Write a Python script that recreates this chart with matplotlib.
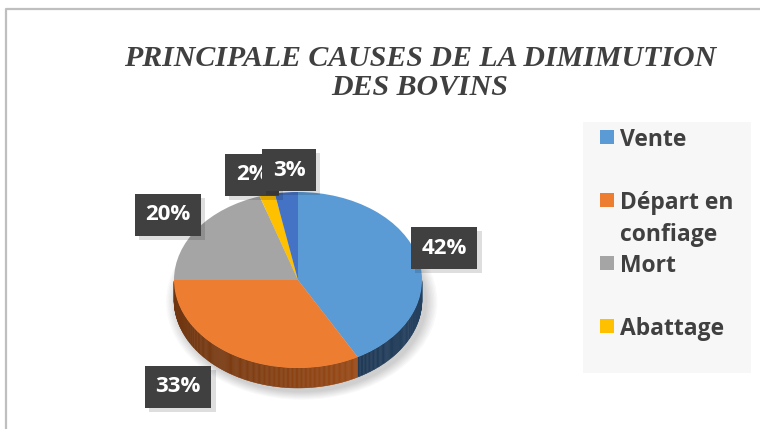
import numpy as np
import matplotlib
matplotlib.use("Agg")
import matplotlib.pyplot as plt
import matplotlib.patheffects as pe
from matplotlib.patches import Polygon, Ellipse, Rectangle
from matplotlib.colors import to_rgb

# ---------------- data ----------------
title = "PRINCIPALE CAUSES DE LA DIMIMUTION\nDES BOVINS"
categories = ["Vente", "Départ en\nconfiage", "Mort", "Abattage", ""]
values = [42, 33, 20, 2, 3]
pct_labels = ["42%", "33%", "20%", "2%", "3%"]

# ---------------- style ----------------
top_colors = ["#5B9BD5", "#ED7D31", "#A5A5A5", "#FFC000", "#4472C4"]
side_colors = ["#203A56", "#9A4A16", "#6A6A6A", "#A07900", "#2A4880"]
text_dark = "#404040"
font_ui = ["Open Sans", "DejaVu Sans"]
# label centres in pixel coordinates (x, y from top)
label_pos = [(444, 248), (178, 387), (168, 215), (252, 175), (289, 170)]
# legend rows in pixel coordinates (y of entry centre)
legend_rows = [137, 200, 263, 326]

W, H = 760, 429
fig = plt.figure(figsize=(W / 100, H / 100), dpi=100)
fig.patch.set_facecolor("white")

# pie axes: 124 px per unit horizontally, 88 px per unit vertically
cx, cy = 298, 280
rx, ry = 124, 88
depth = 20 / ry
axp = fig.add_axes([(cx - 1.5 * rx) / W, (H - cy - 1.5 * ry) / H, 3 * rx / W, 3 * ry / H])
wedges, _ = axp.pie(values, colors=top_colors, startangle=90, counterclock=False,
                    radius=1.0, wedgeprops=dict(linewidth=0, zorder=5))
axp.set_aspect("auto")
axp.set_xlim(-1.5, 1.5)
axp.set_ylim(-1.5, 1.5)
axp.axis("off")

# soft shadow
for k in range(8):
    s = 1.0 + 0.012 * k
    e = Ellipse((0.03, -depth - 0.02), 2 * s + 0.02, 2 * s + 0.06, facecolor="black",
                alpha=0.025, linewidth=0, zorder=1)
    axp.add_patch(e)

# 3D side walls
for w, sc in zip(wedges, side_colors):
    t1, t2 = np.radians(w.theta1), np.radians(w.theta2)
    ts = np.linspace(t1, t2, 200)
    vis = ts[np.sin(ts) <= 0]
    if len(vis) < 2:
        continue
    base = np.array(to_rgb(sc))
    for a, b in zip(vis[:-1], vis[1:]):
        g = 0.72 + 0.38 * (np.cos((a + b) / 2) + 1) / 2
        col = np.clip(base * g, 0, 1)
        pts = [(np.cos(a), np.sin(a)), (np.cos(b), np.sin(b)),
               (np.cos(b), np.sin(b) - depth), (np.cos(a), np.sin(a) - depth)]
        axp.add_patch(Polygon(pts, closed=True, facecolor=col, edgecolor=col,
                              linewidth=0.3, zorder=3))

# overlay axes in pixel coordinates
ax = fig.add_axes([0, 0, 1, 1])
ax.set_xlim(0, W)
ax.set_ylim(H, 0)
ax.axis("off")
ax.patch.set_alpha(0)

# chart border
ax.plot([6, 6, W], [H, 9, 9], color="#BFBFBF", lw=1.6, solid_capstyle="butt", zorder=1)

# title
ax.text(420, 73, title, ha="center", va="center", fontsize=21.5, fontweight="bold",
        fontstyle="italic", family=["Liberation Serif", "DejaVu Serif"], color=text_dark,
        linespacing=1.05)

# data labels
shadow = [pe.SimplePatchShadow(offset=(3, -3), shadow_rgbFace="black", alpha=0.13), pe.Normal()]
for i, (lab, (lx, ly)) in enumerate(zip(pct_labels, label_pos)):
    t = ax.text(lx, ly, lab, ha="center", va="center", fontsize=16, fontweight="bold",
                family=font_ui, color="white",
                bbox=dict(boxstyle="square,pad=0.48", facecolor="#404040", edgecolor="none"),
                zorder=11 + i)
    t.get_bbox_patch().set_path_effects(shadow)

# legend
ax.add_patch(Rectangle((583, 122), 168, 251, facecolor="#F7F7F7", edgecolor="none", zorder=2))
for cat, col, yy in zip(categories, top_colors, legend_rows):
    ax.add_patch(Rectangle((600, yy - 7), 14, 14, facecolor=col, edgecolor="none", zorder=3))
    ax.text(620, yy - 9, cat, ha="left", va="top", fontsize=16.5, fontweight="bold",
            family=font_ui, color=text_dark, linespacing=1.45, zorder=3)

fig.savefig("out.png", dpi=100)
